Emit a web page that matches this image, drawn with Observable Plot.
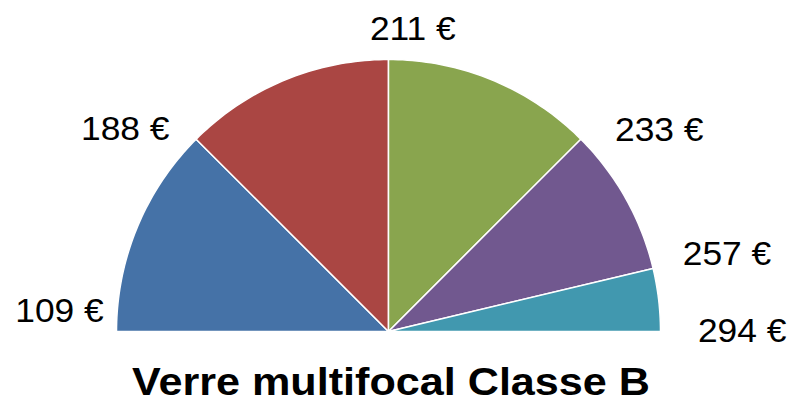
<!DOCTYPE html>
<html>
<head>
<meta charset="utf-8">
<script src="https://cdn.jsdelivr.net/npm/d3@7"></script>
<script src="https://cdn.jsdelivr.net/npm/@observablehq/plot@0.6"></script>
<style>
  html, body { margin: 0; padding: 0; background: #ffffff; }
  #chart { width: 790px; height: 403px; }
</style>
</head>
<body>
<div id="chart"></div>
<script>
// ---- data ----
const categories = ["Tranche 1", "Tranche 2", "Tranche 3", "Tranche 4", "Tranche 5"];
const sliceShares = [45, 45, 45, 31.6, 13.4];            // degrees of the half disc
const priceValues = [109, 188, 211, 233, 257, 294];      // boundary prices (€)
const chartTitle = "Verre multifocal Classe B";

// ---- styles / layout (not data) ----
const sliceColors = ["#4572A7", "#AA4643", "#89A54E", "#71588F", "#4198AF"];
const labelAngle = [176.5, 142.5, 85.4, 36.6, 12.8, 0];   // degrees
const labelRadius = [1.212, 1.22, 1.114, 1.24, 1.276, 1.30];

// ---- build wedge outlines from the shares ----
const rad = (d) => d * Math.PI / 180;
const wedgePoints = [];
let start = 180;
categories.forEach((c, i) => {
  const a0 = start, a1 = start - sliceShares[i];
  start = a1;
  const n = Math.max(2, Math.ceil(Math.abs(a1 - a0)));
  wedgePoints.push({cat: c, x: 0, y: 0});
  for (let k = 0; k <= n; k++) {
    const a = a0 + (a1 - a0) * k / n;
    wedgePoints.push({cat: c, x: Math.cos(rad(a)), y: Math.sin(rad(a))});
  }
  wedgePoints.push({cat: c, x: 0, y: 0});
});

const labels = priceValues.map((v, i) => ({
  text: `${v} €`,
  x: labelRadius[i] * Math.cos(rad(labelAngle[i])),
  y: labelRadius[i] * Math.sin(rad(labelAngle[i]))
}));

const plot = Plot.plot({
  width: 790,
  height: 403,
  margin: 0,
  style: {background: "#ffffff", fontFamily: "'Liberation Sans', Arial, sans-serif", color: "#000"},
  x: {domain: [-1, 1], range: [116, 660], axis: null},
  y: {domain: [0, 1], range: [331, 59], axis: null},
  color: {domain: categories, range: sliceColors},
  marks: [
    Plot.line(wedgePoints, {
      x: "x", y: "y", z: "cat",
      fill: "cat", stroke: "#ffffff", strokeWidth: 1.5,
      curve: "linear"
    }),
    Plot.text(labels, {
      x: "x", y: "y", text: "text",
      fontSize: 34, fill: "#000", textAnchor: "middle", lineAnchor: "middle"
    }),
    Plot.text([chartTitle], {
      frameAnchor: "bottom", lineAnchor: "middle", dx: -4.5, dy: -21.5,
      fontSize: 39.6, fontWeight: "bold", fill: "#000"
    })
  ]
});

function stretchText(t, s) {
  const tr = t.getAttribute("transform");
  if (tr) {
    t.setAttribute("transform", tr + ` scale(${s},1)`);
  } else {
    const x = +t.getAttribute("x") || 0, y = +t.getAttribute("y") || 0;
    t.removeAttribute("x"); t.removeAttribute("y");
    t.setAttribute("transform", `translate(${x},${y}) scale(${s},1)`);
  }
}
plot.querySelectorAll("text").forEach((t) => {
  if (t.textContent === chartTitle) stretchText(t, 1.09);
  else if (t.textContent.includes("€")) stretchText(t, 1.04);
});

document.getElementById("chart").appendChild(plot);
</script>
</body>
</html>
